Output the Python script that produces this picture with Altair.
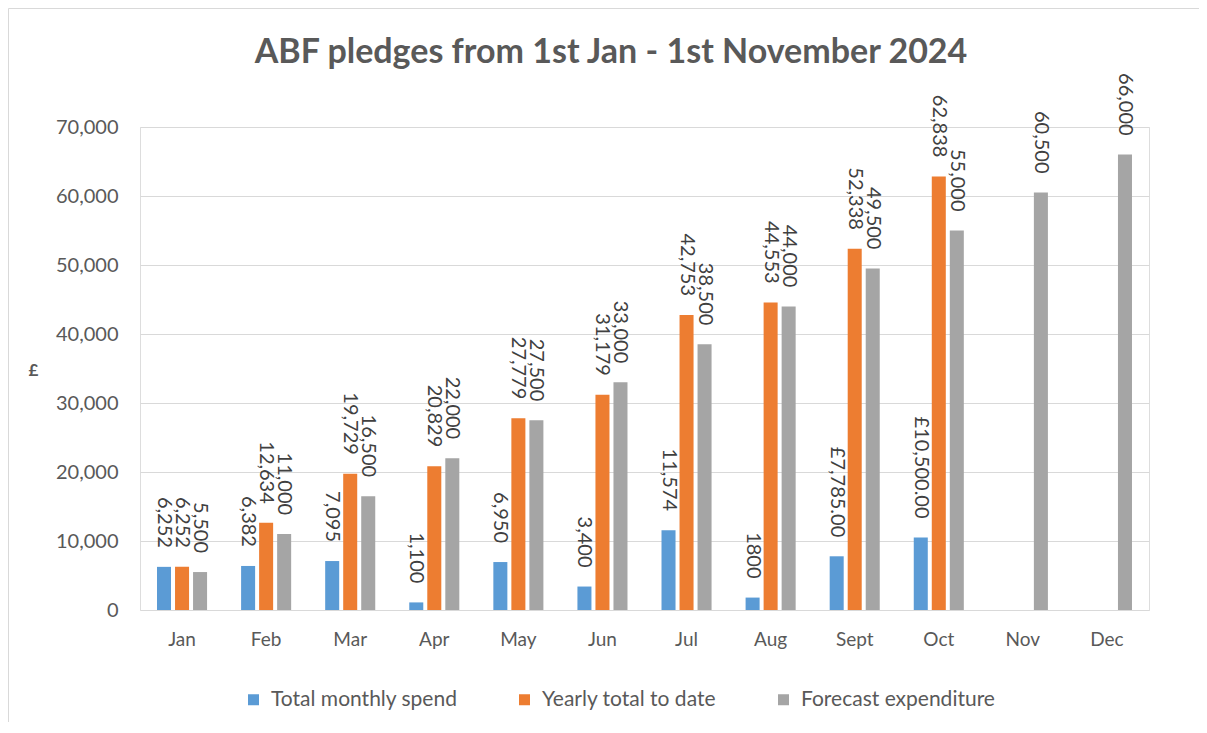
import altair as alt
import pandas as pd

TITLE = "ABF pledges from 1st Jan - 1st November 2024"
months = ["Jan", "Feb", "Mar", "Apr", "May", "Jun", "Jul", "Aug", "Sept", "Oct", "Nov", "Dec"]
series = ["Total monthly spend", "Yearly total to date", "Forecast expenditure"]
colors = ["#5B9BD5", "#ED7D31", "#A5A5A5"]

monthly_spend = [6252, 6382, 7095, 1100, 6950, 3400, 11574, 1800, 7785, 10500, None, None]
monthly_labels = ["6,252", "6,382", "7,095", "1,100", "6,950", "3,400", "11,574", "1800",
                  "£7,785.00", "£10,500.00", None, None]
yearly_total = [6252, 12634, 19729, 20829, 27779, 31179, 42753, 44553, 52338, 62838, None, None]
yearly_labels = ["6,252", "12,634", "19,729", "20,829", "27,779", "31,179", "42,753", "44,553",
                 "52,338", "62,838", None, None]
forecast = [5500, 11000, 16500, 22000, 27500, 33000, 38500, 44000, 49500, 55000, 60500, 66000]
forecast_labels = ["5,500", "11,000", "16,500", "22,000", "27,500", "33,000", "38,500", "44,000",
                   "49,500", "55,000", "60,500", "66,000"]
y_ticks = [0, 10000, 20000, 30000, 40000, 50000, 60000, 70000]

rows = []
for s, vals, labs in zip(series, [monthly_spend, yearly_total, forecast],
                         [monthly_labels, yearly_labels, forecast_labels]):
    for m, v, l in zip(months, vals, labs):
        if v is not None:
            rows.append({"month": m, "series": s, "value": v, "label": l})
df = pd.DataFrame(rows)

FONT = "Lato"
TXT = "#595959"
GRID = "#D9D9D9"

base = alt.Chart(df).encode(
    x=alt.X("month:N", sort=months,
            scale=alt.Scale(domain=months, paddingInner=0, paddingOuter=0),
            axis=alt.Axis(title=None, labelAngle=0, labelFontSize=19, labelColor=TXT,
                          labelFont=FONT, labelPadding=20, ticks=False, domain=False)),
    xOffset=alt.XOffset("series:N", scale=alt.Scale(domain=series, paddingInner=0.222,
                                                     paddingOuter=0.944)),
    y=alt.Y("value:Q", scale=alt.Scale(domain=[0, 70000], nice=False),
            axis=alt.Axis(values=y_ticks, format=",.0f", labelFontSize=20, labelColor=TXT,
                          labelFont=FONT, labelPadding=22, ticks=False, domain=False,
                          grid=True, gridColor=GRID, gridWidth=1,
                          title="£", titleAngle=0, titleFont=FONT, titleFontSize=17,
                          titleFontWeight="bold", titleColor=TXT, titleX=-107, titleY=243,
                          titleAlign="center", titleBaseline="middle")),
)

bars = base.mark_bar().encode(
    color=alt.Color("series:N", scale=alt.Scale(domain=series, range=colors),
                    legend=alt.Legend(title=None, orient="none", legendX=103, legendY=562,
                                      direction="horizontal", symbolType="square",
                                      symbolSize=121, symbolStrokeWidth=0, labelFont=FONT,
                                      labelFontSize=21, labelColor=TXT, labelOffset=7,
                                      labelLimit=0, columnPadding=56))
)

labels = base.mark_text(angle=90, align="right", baseline="middle", dx=-19, fontSize=20,
                        font=FONT, color="#404040").encode(text="label:N")

one = pd.DataFrame({"k": [0]})
title = alt.Chart(one).mark_text(font=FONT, fontSize=34, fontWeight="bold", color=TXT,
                                 align="center", baseline="middle").encode(
    x=alt.value(471), y=alt.value(-74), text=alt.value(TITLE))
top_border = alt.Chart(one).mark_rule(color=GRID, strokeWidth=1).encode(
    x=alt.value(-131.5), x2=alt.value(1059), y=alt.value(-118.5))
left_border = alt.Chart(one).mark_rule(color=GRID, strokeWidth=1).encode(
    x=alt.value(-131.5), y=alt.value(-118.5), y2=alt.value(596))

chart = alt.layer(bars, labels, title, top_border, left_border).properties(
    width=1009, height=483,
    autosize=alt.AutoSizeParams(type="none"),
    padding={"left": 132, "top": 119, "right": 50, "bottom": 112},
).configure_view(stroke=None).configure(background="white")

chart.save("out.html", embed_options={"renderer": "svg", "actions": False})
